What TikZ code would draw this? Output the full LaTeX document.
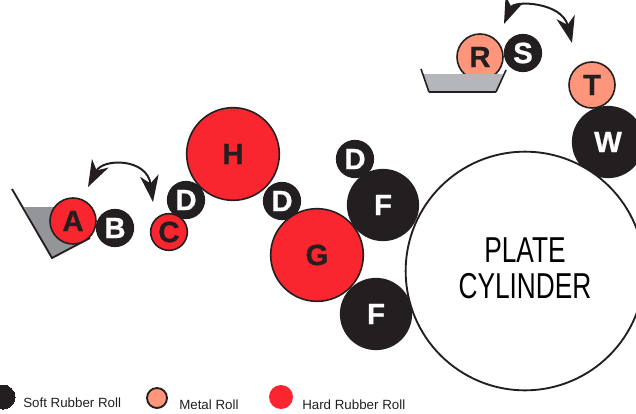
\documentclass[tikz,border=0pt]{standalone}
\usepackage{fontspec}
\setmainfont{Liberation Sans}
\newfontfamily\rollfont[UprightFont=* Bold,FakeBold=0.8]{Liberation Sans}
\usepackage{xcolor}
\usetikzlibrary{arrows.meta}
\definecolor{softblack}{HTML}{231F20}
\definecolor{hardred}{HTML}{F9252F}
\definecolor{metalpink}{HTML}{FF967B}
\definecolor{traygray}{HTML}{939598}
\definecolor{traylight}{HTML}{B4B6B9}
\tikzset{
    roll/.style = {circle, inner sep=0pt, line width=1.2pt, draw=softblack, font=\rollfont\fontsize{22pt}{22pt}\selectfont},
    softroll/.style = {roll, fill=softblack, text=white},
    hardroll/.style = {roll, fill=hardred, text=softblack},
    metalroll/.style = {roll, fill=metalpink, text=softblack},
    legendtext/.style = {anchor=west, inner sep=0pt, text=softblack, font=\fontsize{10pt}{10pt}\selectfont}
}

\begin{document}
\begin{tikzpicture}[x=0.75pt,y=-0.75pt]
        \useasboundingbox (0,0) rectangle (636,414);

        \coordinate (a1) at (88,187);
        \coordinate (a2) at (153,202);
        \coordinate (ac1) at (103,158);
        \coordinate (ac2) at (147,158);
        \coordinate (r1) at (504,24);
        \coordinate (r2) at (572,43);
        \coordinate (rc1) at (514,0);
        \coordinate (rc2) at (562,2);
        \coordinate (t1) at (12,189);
        \coordinate (t2) at (52,258);
        \coordinate (t3) at (90,238);
        \coordinate (u1) at (421,69);
        \coordinate (u2) at (429,92);
        \coordinate (u3) at (496,92);
        \coordinate (u4) at (506,70);

        \fill[traygray] (24,207) -- (60,207) -- (t3) -- (t2) -- cycle;
        \draw[softblack, line width=1.4pt] (t1) -- (t2) -- (t3);

        \node[softroll, minimum size=53pt] (W) at (608,142) {W};
        \node[metalroll, minimum size=34.5pt] (T) at (592,85) {T};
        \node[metalroll, minimum size=34.5pt] (R) at (480,57) {R};
        \node[softroll, minimum size=27.5pt] (S) at (523,53) {S};

        \node[softroll, minimum size=53pt] (F1) at (383,205) {F};
        \node[softroll, minimum size=53pt] (F2) at (376,314) {F};
        \node[softroll, minimum size=27.5pt] (D1) at (355,159) {D};
        \node[softroll, minimum size=27.5pt] (D2) at (282,201) {D};
        \node[hardroll, minimum size=69.5pt] (H) at (233,154) {H};
        \node[hardroll, minimum size=69.5pt] (G) at (317,255) {G};
        \node[softroll, minimum size=27.5pt] (D3) at (186,200) {D};
        \node[hardroll, minimum size=27.5pt] (C) at (169,232) {C};
        \node[softroll, minimum size=27.5pt] (B) at (115,228) {B};
        \node[hardroll, minimum size=34.5pt] (A) at (73,221) {A};

        \node[circle, draw=softblack, fill=white, line width=1.4pt, minimum size=179pt, inner sep=0pt,
              label={[yshift=2pt, align=center, font=\fontsize{27pt}{27pt}\selectfont]center:
              \scalebox{0.73}[1]{PLATE}\\\scalebox{0.73}[1]{CYLINDER}}] (P) at (525,271) {};

        \fill[traylight] (423,74) -- (503,74) -- (u3) -- (u2) -- cycle;
        \draw[softblack, line width=1.2pt] (u1) -- (u2);
        \draw[softblack, line width=1.2pt] (u3) -- (u4);
        \draw[softblack, line width=2pt] (u2) -- (u3);

        \begin{scope}[>={Stealth[length=20pt,width=14pt,inset=6pt]}, draw=softblack, line width=1.5pt]
                \draw[<->] (a1) .. controls (ac1) and (ac2) .. (a2);
                \draw[<->] (r1) .. controls (rc1) and (rc2) .. (r2);
        \end{scope}

        \node[softroll, minimum size=18pt, line width=0pt] (Ks) at (3,397) {};
        \node[metalroll, minimum size=15pt, line width=1.4pt] (Km) at (157,398) {};
        \node[circle, fill=hardred, minimum size=18pt, inner sep=0pt] (Kh) at (281,397) {};
        \node[legendtext] (Ls) at (23,403) {Soft Rubber Roll};
        \node[legendtext] (Lm) at (179,405) {Metal Roll};
        \node[legendtext] (Lh) at (302,405) {Hard Rubber Roll};
    \end{tikzpicture}
\end{document}
